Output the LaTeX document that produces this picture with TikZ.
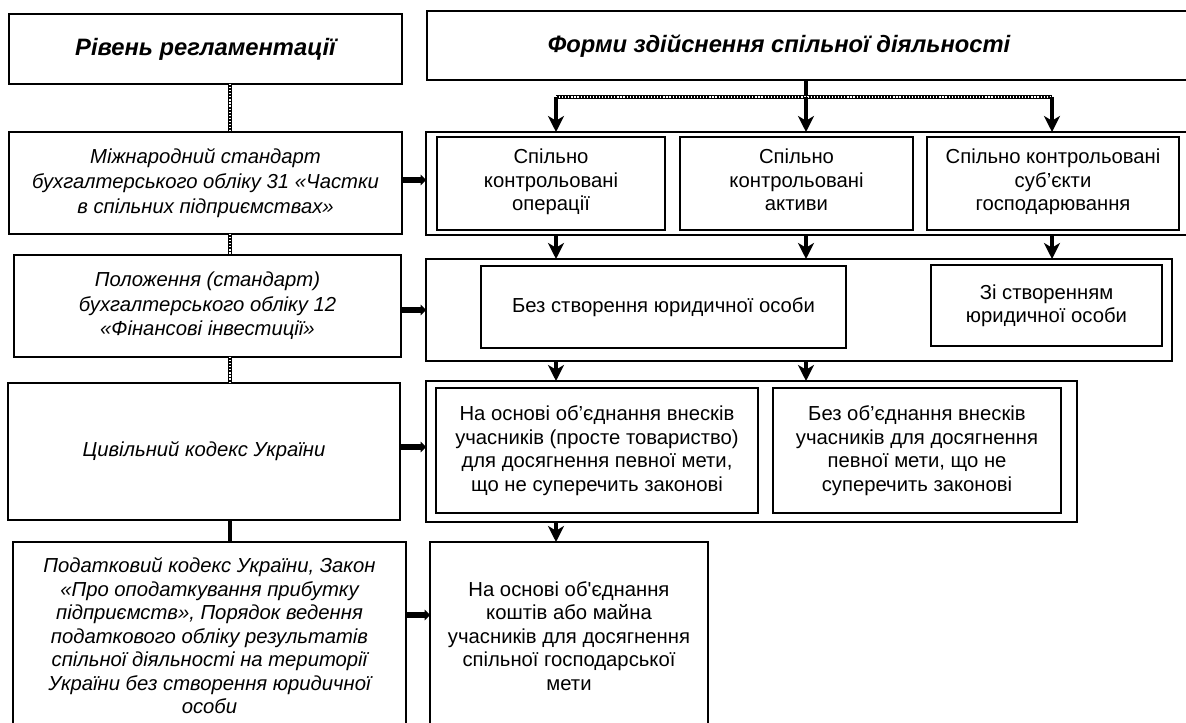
\documentclass[tikz,border=0pt]{standalone}
\usepackage{fontspec}
\setmainfont[Ligatures=TeXOff]{Liberation Sans}
\usetikzlibrary{arrows.meta}
\newcommand\bx[7]{\node[#6, minimum width={(#4-#2)*0.75pt}, minimum height={(#5-#3)*0.75pt}] (#1) at ({(#2+#4)/2},{(#3+#5)/2}) {#7};}
\begin{document}
\begin{tikzpicture}[x=0.75pt,y=-0.75pt,
  lbox/.style={draw, line width=2pt, inner sep=0pt, outer sep=0pt, align=center, font=\fontsize{15.2}{17.6}\selectfont\itshape},
  tbox/.style={lbox, font=\fontsize{17.8}{21}\selectfont\bfseries\itshape},
  cbox/.style={draw, line width=2pt, inner sep=0pt, outer sep=0pt},
  ibox/.style={draw, line width=1.4pt, inner sep=0pt, outer sep=0pt, align=center, font=\fontsize{15.2}{17.6}\selectfont},
  ttext/.style={inner sep=0pt, font=\fontsize{17.8}{21}\selectfont\bfseries\itshape},
  solidline/.style={line width=2.6pt},
  dotline/.style={line width=2.8pt, postaction={draw=white, line width=0.9pt, dash pattern=on 0.9pt off 1.4pt}},
  harrow/.style={line width=4.5pt, -{Triangle[length=4pt,width=8pt]}},
  darrow/.style={line width=2.5pt, -{Stealth[length=12pt,width=12pt,inset=3.5pt]}}]
\fill[white] (0,0) rectangle (1186,723);
\useasboundingbox (0,0) rectangle (1186,723);
% left column
\bx{L1}{9}{14}{402}{84}{tbox}{Рівень регламентації}
\bx{L2}{9}{132}{402}{234}{lbox, font=\fontsize{15.2}{19}\selectfont\itshape}{Міжнародний стандарт\\бухгалтерського обліку 31 «Частки\\в спільних підприємствах»}
\bx{L3}{14}{255}{401}{357}{lbox, font=\fontsize{15.2}{18.4}\selectfont\itshape}{Положення (стандарт)\\бухгалтерського обліку 12\\«Фінансові інвестиції»}
\bx{L4}{8}{383}{400}{520}{lbox}{Цивільний кодекс України}
\bx{L5}{13}{542}{406}{730}{lbox}{Податковий кодекс України, Закон\\«Про оподаткування прибутку\\підприємств», Порядок ведення\\податкового обліку результатів\\спільної діяльності на території\\України без створення юридичної\\особи}
% right column
\bx{R1}{427}{11}{1195}{80}{cbox}{}
\node[ttext] (R1t) at (779,46) {Форми здійснення спільної діяльності};
\bx{R2c}{426}{132}{1195}{235}{cbox}{}
\bx{b1}{437}{137}{665}{230}{ibox}{Спільно\\контрольовані\\операції\strut}
\bx{b2}{680}{137}{913}{230}{ibox}{Спільно\\контрольовані\\активи\strut}
\bx{b3}{927}{137}{1179}{230}{ibox}{Спільно контрольовані\\суб’єкти\\господарювання\strut}
\bx{R3c}{426}{259}{1172}{361}{cbox}{}
\bx{c1}{481}{266}{846}{348}{ibox}{Без створення юридичної особи}
\bx{c2}{931}{265}{1162}{346}{ibox}{Зі створенням\\юридичної особи}
\bx{R4c}{426}{381}{1077}{522}{cbox}{}
\bx{d1}{436}{388}{758}{513}{ibox}{На основі об’єднання внесків\\учасників (просте товариство)\\для досягнення певної мети,\\що не суперечить законові}
\bx{d2}{773}{388}{1061}{513}{ibox}{Без об’єднання внесків\\учасників для досягнення\\певної мети, що не\\суперечить законові}
\bx{R5}{430}{542}{708}{730}{lbox, font=\fontsize{15.2}{17.6}\selectfont}{На основі об'єднання\\коштів або майна\\учасників для досягнення\\спільної господарської\\мети}
% left column connectors
\coordinate (cx) at (230,0);
\draw[dotline] (L1.south -| cx) -- (L2.north -| cx);
\draw[dotline] (L2.south -| cx) -- (L3.north -| cx);
\draw[dotline] (L3.south -| cx) -- (L4.north -| cx);
\draw[solidline] (L4.south -| cx) -- (L5.north -| cx);
% horizontal arrows
\coordinate (h2) at (0,180);
\coordinate (h3) at (0,310);
\coordinate (h4) at (0,447);
\coordinate (h5) at (0,615);
\draw[harrow] (L2.east |- h2) -- (R2c.west |- h2);
\draw[harrow] (L3.east |- h3) -- (R3c.west |- h3);
\draw[harrow] (L4.east |- h4) -- (R4c.west |- h4);
\draw[harrow] (L5.east |- h5) -- (R5.west |- h5);
% distribution from top box
\coordinate (a1) at (556,97);
\coordinate (a2) at (806,97);
\coordinate (a3) at (1052,97);
\draw[solidline] (R1.south -| a2) -- (a2);
\draw[dotline] (a1) -- (a3);
\draw[darrow] (a1) -- (a1 |- R2c.north);
\draw[darrow] (a2) -- (a2 |- R2c.north);
\draw[darrow] (a3) -- (a3 |- R2c.north);
\draw[darrow] (R2c.south -| a1) -- (R3c.north -| a1);
\draw[darrow] (R2c.south -| a2) -- (R3c.north -| a2);
\draw[darrow] (R2c.south -| a3) -- (R3c.north -| a3);
\draw[darrow] (R3c.south -| a1) -- (R4c.north -| a1);
\draw[darrow] (R3c.south -| a2) -- (R4c.north -| a2);
\draw[darrow] (R4c.south -| a1) -- (R5.north -| a1);
\end{tikzpicture}
\end{document}
